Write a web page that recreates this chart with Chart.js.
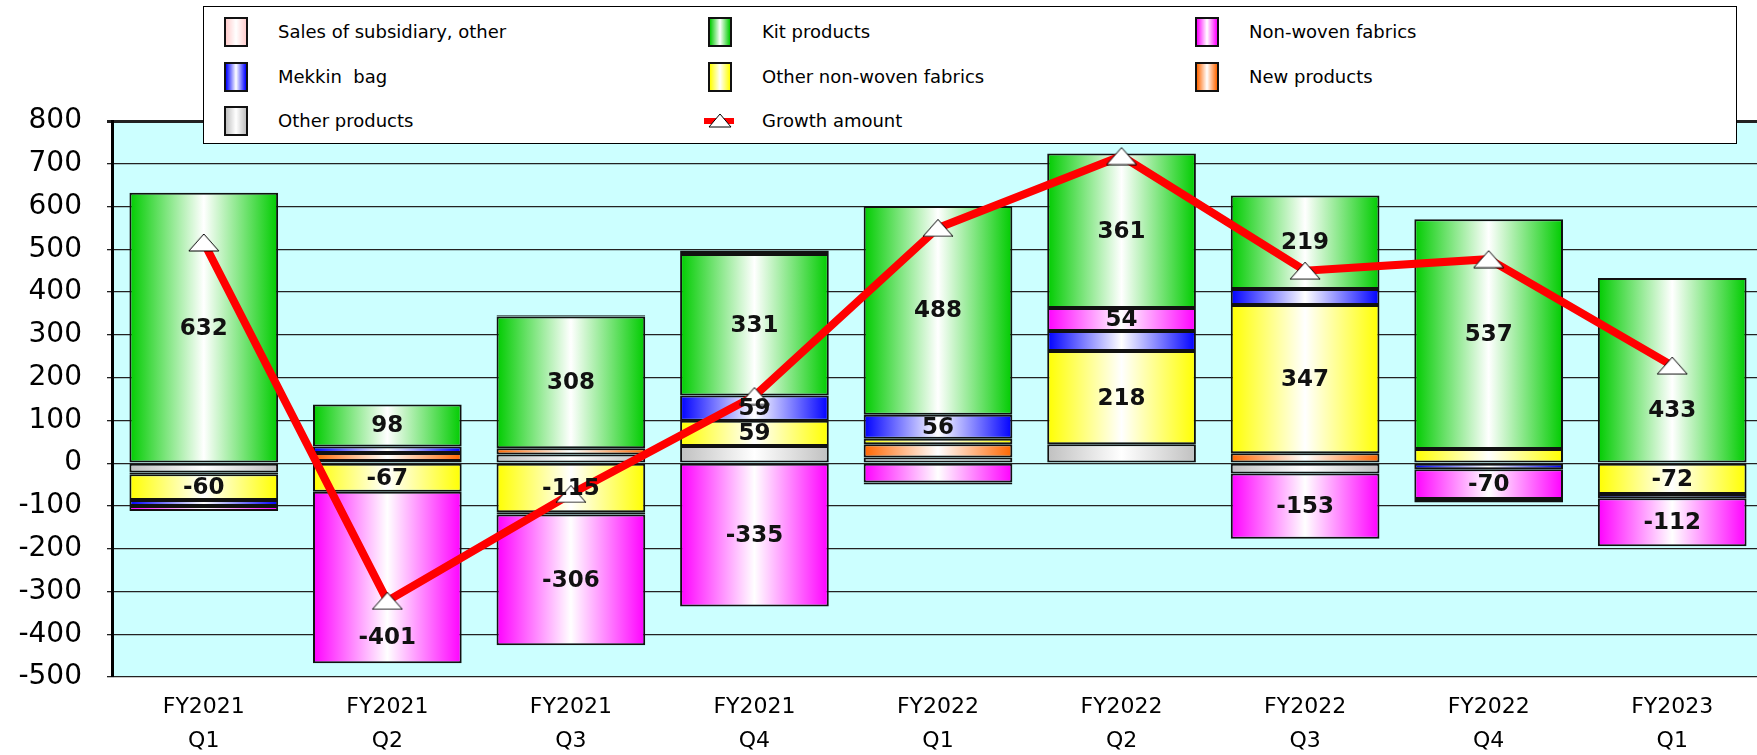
<!DOCTYPE html>
<html lang="en">
	<head>
		<meta charset="utf-8" />
		<script src="https://cdn.jsdelivr.net/npm/chart.js@4/dist/chart.umd.min.js"></script>
		<style>
			body { margin: 0; background: #fff; overflow: hidden; }
			#wrap { position: relative; width: 1757px; height: 755px; overflow: hidden; }
			#legend {
				position: absolute; left: 203px; top: 6px; width: 1532px; height: 136px;
				background: #fff; border: 1px solid #000;
				font-family: "DejaVu Sans", Verdana, sans-serif; font-size: 18px; color: #000;
			}
			.item { position: absolute; height: 30px; line-height: 30px; white-space: nowrap; }
			.swatch { position: absolute; left: 0; top: 0; width: 20px; height: 26px; border: 2px solid #111; }
			.item span { position: absolute; left: 54px; top: 0; white-space: pre; }
		</style>
	</head>

	<body>
		<div id="wrap">
			<!-- plot runs slightly past the right edge, as in the original -->
			<canvas id="myChart" width="1782" height="755"></canvas>
			<div id="legend"></div>
		</div>
	</body>
	<script>
		// quarters on the x axis
		const quarters = [
			["FY2021", "Q1"], ["FY2021", "Q2"], ["FY2021", "Q3"], ["FY2021", "Q4"],
			["FY2022", "Q1"], ["FY2022", "Q2"], ["FY2022", "Q3"], ["FY2022", "Q4"],
			["FY2023", "Q1"]
		];

		// change by product line, in stacking order
		const otherProducts = [-22, 5, 20, 40, 13, 44, -24, 0, 0];
		const newProducts = [-4, 19, 15, 0, 31, 0, 23, 0, 0];
		const otherNonWoven = [-60, -67, -115, 59, 13, 218, 347, 33, -72];
		const mekkinBag = [-14, 15, -5, 59, 56, 47, 37, -14, -10];
		const nonWoven = [-12, -401, -306, -335, -45, 54, -153, -70, -112];
		const kitProducts = [632, 98, 308, 331, 488, 361, 219, 537, 433];
		const subsidiary = [0, 0, 3, 8, -5, 0, 0, -8, 0];
		const growth = [516, -322, -72, 157, 550, 718, 450, 477, 228];

		const yTicks = [-500, -400, -300, -200, -100, 0, 100, 200, 300, 400, 500, 600, 700, 800];

		const FONT = "'DejaVu Sans', Verdana, sans-serif";
		const BAR_PCT = 0.81;

		var series = [
			{ label: "Other products", data: otherProducts, color: "#C0C0C0" },
			{ label: "New products", data: newProducts, color: "#FF6600" },
			{ label: "Other non-woven fabrics", data: otherNonWoven, color: "#FFFF00" },
			{ label: "Mekkin  bag", data: mekkinBag, color: "#0000FF" },
			{ label: "Non-woven fabrics", data: nonWoven, color: "#FF00FF" },
			{ label: "Kit products", data: kitProducts, color: "#00CC00" },
			{ label: "Sales of subsidiary, other", data: subsidiary, color: "#FFCCCC" }
		];

		// labels that were moved off the marker in the original (pixels down)
		const labelNudge = { "4:1": 59, "5:8": 40 };

		// flat white triangle used as the point marker
		function makeTriangle(w, h) {
			var c = document.createElement("canvas");
			c.width = w + 2;
			c.height = h + 2;
			var g = c.getContext("2d");
			g.beginPath();
			g.moveTo(c.width / 2, 1);
			g.lineTo(w + 1, h + 1);
			g.lineTo(1, h + 1);
			g.closePath();
			g.fillStyle = "#fff";
			g.fill();
			g.lineWidth = 1;
			g.strokeStyle = "#000";
			g.stroke();
			return c;
		}
		var tri = makeTriangle(30, 17);

		// horizontal colour -> white -> colour shading across each bar
		function shade(color) {
			return function(ctx) {
				var chart = ctx.chart;
				var xs = chart.scales.x;
				if (!xs || !chart.chartArea) return color;
				var cx = xs.getPixelForValue(ctx.dataIndex);
				var w = (xs.width / quarters.length) * BAR_PCT;
				var g = chart.ctx.createLinearGradient(cx - w / 2, 0, cx + w / 2, 0);
				g.addColorStop(0, color);
				g.addColorStop(0.5, "#FFFFFF");
				g.addColorStop(1, color);
				return g;
			};
		}

		var datasets = series.map(function(s) {
			return {
				type: "bar",
				label: s.label,
				data: s.data.map(v => (v === 0 ? null : v)),
				backgroundColor: shade(s.color),
				borderColor: "#111",
				borderWidth: 2,
				borderSkipped: false,
				stack: "sales",
				order: 1
			};
		});
		datasets.push({
			type: "line",
			label: "Growth amount",
			data: growth,
			borderColor: "#FF0000",
			borderWidth: 8,
			pointStyle: tri,
			pointRadius: 10,
			tension: 0,
			stack: "growth",
			order: 0
		});

		const plotBg = {
			id: "plotBg",
			beforeDraw(chart) {
				var a = chart.chartArea;
				var c = chart.ctx;
				c.save();
				c.fillStyle = "#CCFFFF";
				c.fillRect(a.left, a.top, a.right - a.left, a.bottom - a.top);
				c.restore();
			}
		};

		// value labels inside the larger segments
		const segLabels = {
			id: "segLabels",
			afterDatasetsDraw(chart) {
				var c = chart.ctx;
				c.save();
				c.font = "bold 23px " + FONT;
				c.fillStyle = "#111";
				c.textAlign = "center";
				c.textBaseline = "middle";
				series.forEach(function(s, di) {
					var meta = chart.getDatasetMeta(di);
					meta.data.forEach(function(el, i) {
						var v = s.data[i];
						if (Math.abs(v) < 50) return;
						var p = el.getProps(["x", "y", "base"], true);
						var dy = labelNudge[di + ":" + i] || 0;
						c.fillText(String(v), p.x, (p.y + p.base) / 2 + 1 + dy);
					});
				});
				c.restore();
			}
		};

		var ctx = document.getElementById("myChart").getContext("2d");
		var myChart = new Chart(ctx, {
			data: { labels: quarters, datasets: datasets },
			options: {
				responsive: false,
				animation: false,
				layout: { padding: { top: 121, left: 0, right: 0, bottom: 0 } },
				plugins: { legend: { display: false }, tooltip: { enabled: false } },
				datasets: { bar: { barPercentage: BAR_PCT, categoryPercentage: 1 } },
				scales: {
					x: {
						stacked: true,
						grid: { display: false, drawTicks: false },
						border: { display: false },
						ticks: { color: "#000", font: { family: FONT, size: 22, lineHeight: 1.55 }, padding: 13 },
						afterFit(scale) { scale.height = 78; }
					},
					y: {
						stacked: true,
						min: yTicks[0],
						max: yTicks[yTicks.length - 1],
						afterBuildTicks(scale) { scale.ticks = yTicks.map(v => ({ value: v })); },
						grid: {
							color: "#222",
							lineWidth: c => (c.tick && c.tick.value === 800 ? 3 : 1.3),
							tickLength: 5
						},
						border: { display: true, color: "#000", width: 3 },
						ticks: { color: "#000", font: { family: FONT, size: 28 }, padding: 25 },
						afterFit(scale) { scale.width = 112; }
					}
				}
			},
			plugins: [plotBg, segLabels]
		});

		// legend box: reverse stacking order, three columns
		var legendItems = series.slice().reverse().map(s => ({ label: s.label, color: s.color }));
		legendItems.push({ label: "Growth amount", line: true });
		var colX = [20, 504, 991];
		var rowY = [10, 55, 99];
		var box = document.getElementById("legend");
		legendItems.forEach(function(it, i) {
			var d = document.createElement("div");
			d.className = "item";
			d.style.left = colX[i % 3] + "px";
			d.style.top = rowY[Math.floor(i / 3)] + "px";
			if (it.line) {
				var m = document.createElement("div");
				m.style.cssText = "position:absolute;left:-4px;top:12px;width:30px;height:6px;background:#FF0000;";
				d.appendChild(m);
				var t = makeTriangle(22, 13);
				t.style.cssText = "position:absolute;left:0px;top:7px;";
				d.appendChild(t);
			} else {
				var sw = document.createElement("div");
				sw.className = "swatch";
				sw.style.background = "linear-gradient(to right, " + it.color + ", #fff, " + it.color + ")";
				d.appendChild(sw);
			}
			var sp = document.createElement("span");
			sp.textContent = it.label;
			d.appendChild(sp);
			box.appendChild(d);
		});
	</script>
</html>
